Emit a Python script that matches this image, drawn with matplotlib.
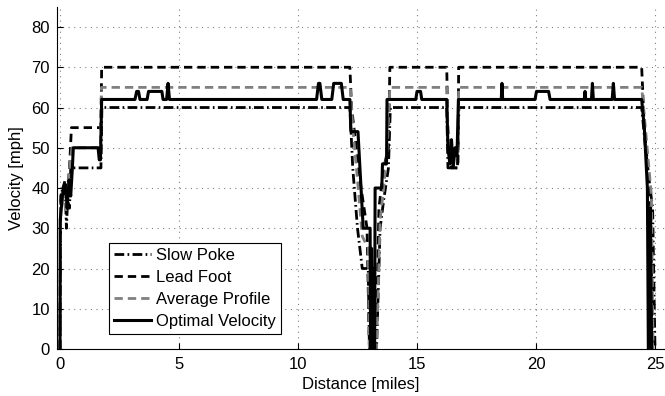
import matplotlib
matplotlib.use("Agg")
import matplotlib.pyplot as plt

plt.rcParams['font.family'] = ['Liberation Sans', 'DejaVu Sans']

# ---- data (distance in miles, velocity in mph) ----
slow_x = [0, 0.03, 0.1, 0.22, 0.27, 0.32, 0.4, 0.45, 1.72, 1.76,
          12.18, 12.3, 12.5, 12.7, 12.95, 13.0, 13.3, 13.45, 13.6, 13.8, 13.88,
          16.25, 16.3, 16.7, 16.76, 24.44, 24.6, 24.75, 24.9, 25.0]
slow_v = [0, 36, 40, 40, 30, 37, 35, 45, 45, 60,
          60, 45, 30, 20, 20, 0, 0, 30, 37, 45, 60,
          60, 45, 45, 60, 60, 50, 42, 35, 0]

lead_x = [0, 0.03, 0.12, 0.22, 0.3, 0.4, 0.48, 1.72, 1.75,
          12.18, 12.25, 12.45, 12.65, 12.9, 13.0, 13.28, 13.4, 13.6, 13.8, 13.86,
          16.25, 16.3, 16.45, 16.72, 16.75, 24.44, 24.55, 24.7, 24.82, 24.88]
lead_v = [0, 38, 40, 42, 38, 45, 55, 55, 70,
          70, 60, 50, 40, 30, 0, 0, 35, 45, 50, 70,
          70, 52, 45, 45, 70, 70, 55, 45, 35, 0]

avg_x = [0, 0.03, 0.15, 0.25, 0.35, 0.5, 1.7, 1.74,
         12.2, 12.3, 12.5, 12.7, 12.95, 13.0, 13.3, 13.45, 13.6, 13.75, 13.86,
         16.25, 16.3, 16.45, 16.72, 16.75, 24.44, 24.55, 24.7, 24.85, 24.92]
avg_v = [0, 35, 38, 34, 42, 50, 50, 65,
         65, 55, 42, 28, 25, 0, 0, 32, 40, 50, 65,
         65, 55, 48, 48, 65, 65, 58, 48, 38, 0]

opt_x = [0, 0.01, 0.1, 0.14, 0.25, 0.3, 0.38, 0.45, 0.52, 0.56, 1.6, 1.65, 1.7, 1.75,
         3.15, 3.22, 3.3, 3.36, 3.66, 3.72, 4.28, 4.33, 4.48, 4.54, 4.6, 4.7,
         10.78, 10.86, 10.92, 11.0, 11.42, 11.5, 11.82, 11.9, 12.18, 12.22, 12.52,
         12.74, 13.03, 13.05, 13.09, 13.12, 13.16, 13.22, 13.24, 13.52, 13.55, 13.72,
         13.74, 13.87, 14.95, 15.0, 15.15, 15.2, 16.25, 16.3, 16.38, 16.45, 16.52,
         16.6, 16.68, 16.74, 18.54, 18.57, 18.6, 19.96, 20.02, 20.53, 20.59,
         22.03, 22.06, 22.09, 22.33, 22.37, 22.41, 23.2, 23.25, 23.3,
         24.44, 24.55, 24.68, 24.72, 24.76, 24.8, 24.86]
opt_v = [0, 32, 38, 40, 40, 35, 42, 38, 45, 50, 50, 47, 47, 62,
         62, 64, 64, 62, 62, 64, 64, 62, 62, 66, 62, 62,
         62, 66, 66, 62, 62, 66, 66, 62, 62, 54, 54,
         30, 30, 0, 25, 0, 20, 0, 40, 40, 46, 46,
         62, 62, 62, 64, 64, 62, 62, 50, 46, 52, 45,
         50, 48, 62, 62, 66, 62, 62, 64, 64, 62,
         62, 64, 62, 62, 66, 62, 62, 66, 62,
         62, 55, 40, 0, 0, 35, 0]

x_ticks = [0, 5, 10, 15, 20, 25]
y_ticks = [0, 10, 20, 30, 40, 50, 60, 70, 80]

fig = plt.figure(figsize=(6.65, 3.96), dpi=100)
ax = fig.add_axes([57 / 665, 1 - 349 / 396, 608 / 665, (349 - 6.9) / 396])

ax.plot(slow_x, slow_v, color='black', lw=2.0, dashes=(3.5, 1.2, 0.6, 1.2),
        label='Slow Poke', zorder=3)
ax.plot(lead_x, lead_v, color='black', lw=2.0, dashes=(3.0, 1.8),
        label='Lead Foot', zorder=3)
ax.plot(avg_x, avg_v, color='#808080', lw=2.0, dashes=(3.0, 1.8),
        label='Average Profile', zorder=3)
ax.plot(opt_x, opt_v, color='black', lw=2.2, label='Optimal Velocity', zorder=4)

ax.set_xlim(-0.126, 25.42)
ax.set_ylim(0, 85)
ax.set_xticks(x_ticks)
ax.set_yticks(y_ticks)
ax.tick_params(direction='in', length=4, width=0.8, labelsize=12, colors='black')
ax.tick_params(axis='x', pad=6)
ax.tick_params(axis='y', pad=5)
ax.grid(True, color='#808080', linestyle=(0, (1, 4)), linewidth=0.8)
ax.set_axisbelow(True)

for side in ['top', 'right']:
    ax.spines[side].set_visible(False)
for side in ['left', 'bottom']:
    ax.spines[side].set_linewidth(0.8)

ax.set_xlabel('Distance [miles]', fontsize=12, labelpad=3)
ax.set_ylabel('Velocity [mph]', fontsize=12, labelpad=5)

leg = ax.legend(loc='lower left', bbox_to_anchor=(0.0855, 0.0436), borderaxespad=0,
                fontsize=12, handlelength=2.2, handletextpad=0.3, labelspacing=0.42,
                borderpad=0.3, fancybox=False, framealpha=1, edgecolor='black')
leg.get_frame().set_linewidth(0.8)

fig.savefig('out.png', dpi=100)
